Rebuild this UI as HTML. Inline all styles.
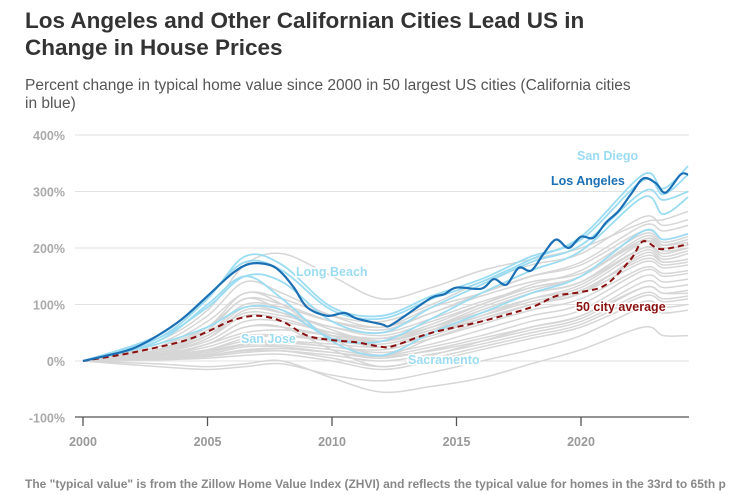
<!DOCTYPE html>
<html><head><meta charset="utf-8">
<style>
body{margin:0;background:#fff;font-family:"Liberation Sans",sans-serif;}
#wrap{position:relative;width:730px;height:495px;overflow:hidden;}
.t{position:absolute;left:25px;font-weight:bold;color:#333;font-size:22.5px;line-height:27px;}
.s{position:absolute;left:25px;color:#555;font-size:15.5px;line-height:18px;white-space:nowrap;}
.f{position:absolute;left:25px;top:477px;color:#888;font-size:12px;font-weight:bold;white-space:nowrap;}
svg text{font-family:"Liberation Sans",sans-serif;font-weight:bold;}
</style></head><body>
<div id="wrap">
<div class="t" style="top:7px">Los Angeles and Other Californian Cities Lead US in<br>Change in House Prices</div>
<div class="s" style="top:77px">Percent change in typical home value since 2000 in 50 largest US cities (California cities<br>in blue)</div>
<svg id="svg" width="730" height="495" style="position:absolute;left:0;top:0"></svg>
<div class="f">The "typical value" is from the Zillow Home Value Index (ZHVI) and reflects the typical value for homes in the 33rd to 65th p</div>
</div>
<script>
const knots=[2000,2003,2005,2006.5,2008,2010,2012,2014,2016,2018,2020,2022.5,2023.3,2024.3];
const grayCities=[
[0,35,90,170,190,150,110,130,160,180,200,245,250,265],
[0,30,80,140,120,80,60,95,120,150,175,240,230,240],
[0,25,70,120,110,80,70,100,140,170,190,255,240,250],
[0,20,50,100,95,70,60,85,120,150,170,230,215,225],
[0,20,55,110,90,55,35,60,90,120,140,200,185,195],
[0,15,40,90,85,60,45,70,100,130,150,215,205,215],
[0,15,35,70,70,50,40,60,85,110,130,195,180,190],
[0,12,30,60,60,45,35,55,80,105,125,185,175,180],
[0,10,25,45,45,35,30,50,75,100,120,175,165,170],
[0,10,20,35,35,25,20,40,65,90,110,165,155,160],
[0,8,18,30,32,25,15,30,55,80,100,160,150,155],
[0,8,15,28,28,20,10,25,45,70,90,150,140,145],
[0,5,12,25,25,15,5,20,40,60,80,140,130,135],
[0,5,10,20,22,15,8,18,35,55,75,130,120,125],
[0,3,8,15,18,10,0,12,30,50,70,120,110,115],
[0,5,10,18,18,5,-10,5,25,45,65,115,105,110],
[0,2,5,10,12,0,-15,0,20,40,60,105,95,100],
[0,-10,-15,-10,-5,-25,-35,-20,0,20,45,95,85,90],
[0,-5,-10,-5,0,-30,-55,-45,-30,-5,20,60,45,45],
[0,10,30,60,60,20,-10,10,35,60,80,130,120,120],
[0,20,60,120,100,40,10,40,70,100,120,190,175,180],
[0,15,45,95,85,45,25,50,80,110,135,200,190,200],
[0,12,40,80,75,50,35,55,90,120,140,210,200,205],
[0,10,30,50,55,45,40,65,100,135,160,225,210,220],
[0,8,20,40,45,40,35,60,95,125,150,215,200,205],
[0,5,15,30,35,30,25,45,75,100,125,180,170,175],
[0,25,60,110,100,70,55,85,115,140,155,210,195,200],
[0,18,45,85,80,60,50,75,105,130,150,220,205,210]];
const caCities=[
[0,45,115,175,160,90,75,110,140,180,220,330,305,345],
[0,40,110,185,170,95,80,115,145,185,215,320,295,330],
[0,30,60,95,90,40,35,75,120,160,195,290,260,290],
[0,35,100,150,110,35,10,50,85,120,150,230,215,225],
[0,40,95,150,140,70,50,95,135,175,205,300,285,300]];
const laYears=[2000,2001,2002,2003,2004,2005,2006,2006.7,2007.5,2008,2008.5,2009,2009.8,2010.5,2011,2012,2012.3,2013,2014,2014.5,2015,2016,2016.5,2017,2017.5,2018,2018.5,2019,2019.5,2020,2020.5,2021,2021.5,2022,2022.5,2023,2023.4,2024,2024.3];
const laValues=[0,10,22,45,75,115,155,172,170,155,128,95,80,85,75,65,62,82,112,118,130,128,145,135,165,160,190,215,200,220,218,245,265,295,323,315,298,330,330];
const avgYears=[2000,2002,2004,2005,2006,2007,2008,2009,2010,2011,2012,2012.5,2014,2016,2018,2019,2020,2021,2022,2022.5,2023.2,2024.3];
const avgValues=[0,15,35,52,72,80,70,45,37,33,25,27,50,70,95,115,122,135,180,212,198,207];
const yTicks=[400,300,200,100,0,-100];
const xTicks=[2000,2005,2010,2015,2020];
const NS="http://www.w3.org/2000/svg";
const svg=document.getElementById('svg');
const X=y=>83+(y-2000)*24.9;
const Y=v=>361-v*0.565;
function mk(t,a){const e=document.createElementNS(NS,t);for(const k in a)e.setAttribute(k,a[k]);svg.appendChild(e);return e;}
function path(xs,vs){const p=xs.map((x,i)=>[X(x),Y(vs[i])]);let d='M'+p[0][0]+','+p[0][1];
for(let i=0;i<p.length-1;i++){const p0=p[i-1]||p[i],p1=p[i],p2=p[i+1],p3=p[i+2]||p2;
d+=' C'+(p1[0]+(p2[0]-p0[0])/6)+','+(p1[1]+(p2[1]-p0[1])/6)+' '+(p2[0]-(p3[0]-p1[0])/6)+','+(p2[1]-(p3[1]-p1[1])/6)+' '+p2[0]+','+p2[1];}return d;}
yTicks.forEach(v=>{
 if(v>-100){const g=mk('line',{x1:75,x2:689,y1:Y(v),y2:Y(v),stroke:'#e2e2e2','stroke-width':1});
 }
 const t=mk('text',{x:65,y:Y(v)+5,'text-anchor':'end','font-size':12.5,fill:'#aaa'});t.textContent=v+'%';
 
});
const ax=mk('line',{x1:75,x2:689,y1:417,y2:417,stroke:'#555','stroke-width':1.3});

xTicks.forEach(yr=>{const l=mk('line',{x1:X(yr),x2:X(yr),y1:417,y2:426,stroke:'#555','stroke-width':1.3});

const t=mk('text',{x:X(yr),y:446,'text-anchor':'middle','font-size':12.5,fill:'#999'});t.textContent=yr;
});
grayCities.forEach(vs=>{const p=mk('path',{d:path(knots,vs),fill:'none',stroke:'#d6d6d6','stroke-width':1.5});
});
caCities.forEach(vs=>{const p=mk('path',{d:path(knots,vs),fill:'none',stroke:'#9bdcf2','stroke-width':1.8});
});
const av=mk('path',{d:path(avgYears,avgValues),fill:'none',stroke:'#8b1010','stroke-width':2,'stroke-dasharray':'6,4'});

const la=mk('path',{d:path(laYears,laValues),fill:'none',stroke:'#1a6fb5','stroke-width':2.2});

const labels=[['San Diego',577,160,'#9bdcf2','label-san-diego'],['Los Angeles',551,185,'#1a6fb5','label-los-angeles'],
['Long Beach',296,276,'#9bdcf2','label-long-beach'],['San Jose',241,343,'#9bdcf2','label-san-jose'],
['Sacramento',408,364,'#9bdcf2','label-sacramento'],['50 city average',576,311,'#8b1010','label-average']];
labels.forEach(l=>{const t=mk('text',{x:l[1],y:l[2],'font-size':12.5,fill:l[3],stroke:'#fff','stroke-width':3,'paint-order':'stroke'});t.textContent=l[0];
});
</script>
</body></html>
